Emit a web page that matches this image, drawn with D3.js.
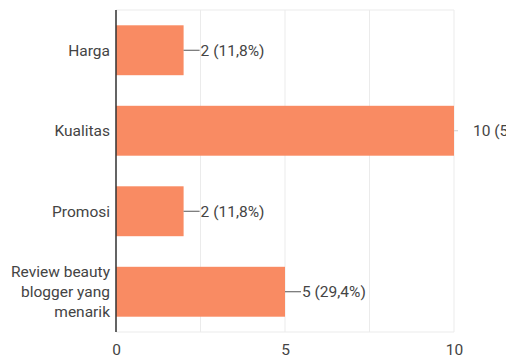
<!DOCTYPE html>
<html><head><meta charset="utf-8">
<script src="https://cdn.jsdelivr.net/npm/d3@7"></script>
<style>
html,body{margin:0;padding:0;background:#fff;overflow:hidden}
text{font-family:Roboto,"Noto Sans",sans-serif;}
</style></head>
<body>
<svg id="c" width="506" height="358"></svg>
<script>
const categories = ["Harga", "Kualitas", "Promosi", "Review beauty blogger yang menarik"];
const categoryLines = [["Harga"], ["Kualitas"], ["Promosi"], ["Review beauty", "blogger yang", "menarik"]];
const counts = [2, 10, 2, 5];
const valueLabels = ["2 (11,8%)", "10 (58,8%)", "2 (11,8%)", "5 (29,4%)"];
const tickValues = [0, 5, 10];
const gridValues = [0, 2.5, 5, 7.5, 10];

(function () {
const svg = d3.select("#c");
const mL = 116, mR = 454, mT = 10, mB = 332;
const fs = 15.5;
const x = d3.scaleLinear().domain([0, 10]).range([mL, mR]);
const y = d3.scaleBand().domain(categories).range([mT, mB]).paddingInner(0.38).paddingOuter(0.19);

// grid
svg.append("g").selectAll("line").data(gridValues).join("line")
  .attr("x1", d => x(d)).attr("x2", d => x(d))
  .attr("y1", mT).attr("y2", mB)
  .attr("stroke", "#ebebeb").attr("stroke-width", 1);
svg.append("line").attr("x1", mL).attr("x2", mR).attr("y1", mT).attr("y2", mT)
  .attr("stroke", "#ebebeb");
svg.append("line").attr("x1", mL).attr("x2", mR).attr("y1", mB).attr("y2", mB)
  .attr("stroke", "#ebebeb");

// bars
svg.append("g").selectAll("rect").data(categories).join("rect")
  .attr("x", x(0)).attr("y", d => y(d))
  .attr("width", (d, i) => x(counts[i]) - x(0))
  .attr("height", y.bandwidth())
  .attr("fill", "#f98b63");

// leader lines + labels
categories.forEach((c, i) => {
  const cy = y(c) + y.bandwidth() / 2;
  const x0 = x(counts[i]);
  const full = counts[i] === 10;
  svg.append("line").attr("x1", x0).attr("x2", full ? x0 + 4 : x0 + 16)
    .attr("y1", cy).attr("y2", cy)
    .attr("stroke", full ? "#cfcfcf" : "#555").attr("stroke-width", 1);
  svg.append("text").attr("x", full ? x0 + 19 : x0 + 17).attr("y", cy)
    .attr("dy", "0.35em").attr("font-size", fs).attr("fill", "#444")
    .text(valueLabels[i]);
});

// category labels
categories.forEach((c, i) => {
  const lines = categoryLines[i];
  const cy = y(c) + y.bandwidth() / 2;
  const lh = 20;
  const t = svg.append("text").attr("text-anchor", "end").attr("font-size", fs).attr("fill", "#444");
  lines.forEach((l, j) => {
    t.append("tspan").attr("x", 110)
      .attr("y", cy + (j - (lines.length - 1) / 2) * lh)
      .attr("dy", "0.35em").text(l);
  });
});

// y axis line
svg.append("line").attr("x1", mL).attr("x2", mL).attr("y1", mT).attr("y2", mB)
  .attr("stroke", "#333").attr("stroke-width", 1.5);

// x axis tick labels
const xAxis = d3.axisBottom(x).tickValues(tickValues).tickSize(0).tickPadding(0).tickFormat(d3.format("d"));
const gx = svg.append("g").attr("transform", `translate(0,${mB + 12})`).call(xAxis);
gx.select(".domain").remove();
gx.selectAll("text").attr("font-size", fs).attr("fill", "#444").attr("font-family", "Roboto,sans-serif");
})();
</script>
</body></html>
